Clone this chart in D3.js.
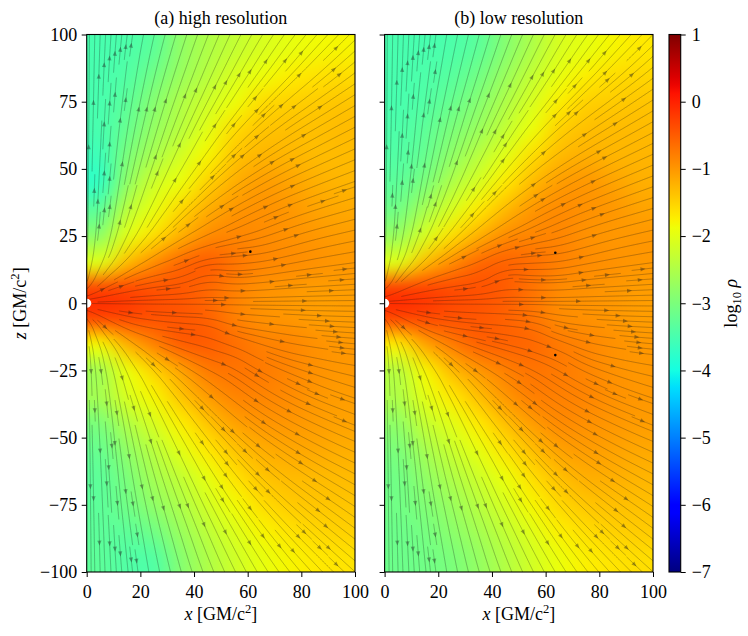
<!DOCTYPE html>
<html>
<head>
<meta charset="utf-8">
<script src="https://cdn.jsdelivr.net/npm/d3@7"></script>
<style>
  body { margin: 0; background: #fff; }
  svg text { font-family: "Liberation Serif", "Times New Roman", serif; }
</style>
</head>
<body>
<div id="chart"></div>
<script>
// density grid: cell centres (GM/c^2), values are log10 rho
const xCells = [5, 15, 25, 35, 45, 55, 65, 75, 85, 95];
const zCells = [95, 85, 75, 65, 55, 45, 35, 25, 15, 5, -5, -15, -25, -35, -45, -55, -65, -75, -85, -95];

const rhoHigh = [
  [-3.5, -3.45, -3.3, -2.8, -2.5, -2.3, -2.1, -1.95, -1.85, -1.8],
  [-3.5, -3.4, -3.1, -2.7, -2.4, -2.1, -1.9, -1.75, -1.65, -1.6],
  [-3.5, -3.3, -2.9, -2.5, -2.2, -1.9, -1.6, -1.5, -1.45, -1.4],
  [-3.5, -3.2, -2.75, -2.4, -2.0, -1.6, -1.4, -1.35, -1.35, -1.3],
  [-3.6, -3.0, -2.55, -2.15, -1.8, -1.4, -1.25, -1.25, -1.3, -1.3],
  [-3.7, -2.8, -2.2, -1.9, -1.5, -1.2, -1.05, -1.1, -1.2, -1.25],
  [-3.3, -2.4, -1.95, -1.55, -1.2, -1.0, -0.95, -1.0, -1.1, -1.15],
  [-2.8, -2.0, -1.6, -1.2, -0.9, -0.85, -0.9, -0.95, -1.0, -1.05],
  [-2.0, -1.3, -0.9, -0.6, -0.5, -0.7, -0.85, -0.9, -0.95, -1.0],
  [-0.25, -0.3, -0.4, -0.45, -0.6, -0.8, -0.95, -1.0, -1.05, -1.05],
  [-0.25, -0.3, -0.4, -0.45, -0.55, -0.8, -0.95, -1.0, -1.05, -1.05],
  [-1.8, -1.2, -0.8, -0.5, -0.5, -0.65, -0.8, -0.85, -0.95, -1.0],
  [-2.6, -1.9, -1.5, -1.1, -0.75, -0.7, -0.75, -0.85, -0.95, -1.0],
  [-2.6, -2.1, -1.8, -1.4, -1.05, -0.85, -0.85, -0.9, -1.0, -1.05],
  [-3.0, -2.5, -2.1, -1.75, -1.4, -1.1, -1.0, -1.0, -1.05, -1.1],
  [-3.2, -2.8, -2.4, -2.0, -1.7, -1.4, -1.2, -1.15, -1.15, -1.2],
  [-3.3, -3.0, -2.6, -2.3, -1.95, -1.65, -1.4, -1.3, -1.3, -1.3],
  [-3.3, -3.1, -2.8, -2.5, -2.15, -1.85, -1.6, -1.45, -1.4, -1.4],
  [-3.3, -3.3, -3.1, -2.7, -2.35, -2.05, -1.8, -1.65, -1.55, -1.5],
  [-3.3, -3.4, -3.4, -2.9, -2.5, -2.2, -1.95, -1.8, -1.7, -1.65]
];

const rhoLow = [
  [-3.5, -3.5, -3.45, -3.3, -2.9, -2.5, -2.1, -1.95, -1.8, -1.7],
  [-3.5, -3.45, -3.35, -3.1, -2.7, -2.3, -1.95, -1.75, -1.6, -1.55],
  [-3.5, -3.4, -3.2, -2.9, -2.5, -2.1, -1.75, -1.5, -1.45, -1.4],
  [-3.45, -3.3, -3.0, -2.7, -2.3, -1.9, -1.5, -1.35, -1.3, -1.3],
  [-3.4, -3.2, -2.8, -2.4, -2.0, -1.6, -1.3, -1.2, -1.25, -1.25],
  [-3.3, -3.0, -2.5, -2.1, -1.7, -1.3, -1.05, -1.0, -1.1, -1.2],
  [-3.1, -2.6, -2.1, -1.7, -1.3, -1.0, -0.9, -0.95, -1.0, -1.1],
  [-2.7, -2.1, -1.6, -1.2, -0.9, -0.85, -0.85, -0.95, -1.0, -1.0],
  [-2.0, -1.3, -0.9, -0.6, -0.55, -0.65, -0.8, -0.9, -0.95, -1.0],
  [-0.2, -0.25, -0.35, -0.4, -0.5, -0.7, -0.9, -0.95, -1.0, -1.05],
  [-0.25, -0.3, -0.4, -0.45, -0.55, -0.7, -0.9, -0.95, -1.0, -1.05],
  [-1.7, -1.1, -0.75, -0.55, -0.55, -0.6, -0.75, -0.85, -0.95, -1.0],
  [-2.4, -1.8, -1.3, -1.0, -0.8, -0.7, -0.75, -0.85, -0.95, -1.0],
  [-2.5, -2.0, -1.7, -1.35, -1.0, -0.8, -0.8, -0.85, -0.95, -1.0],
  [-2.8, -2.3, -2.0, -1.7, -1.35, -1.05, -0.9, -0.95, -1.0, -1.05],
  [-3.0, -2.6, -2.25, -1.95, -1.65, -1.35, -1.1, -1.05, -1.1, -1.15],
  [-3.1, -2.8, -2.5, -2.2, -1.9, -1.6, -1.35, -1.2, -1.2, -1.25],
  [-3.1, -2.95, -2.7, -2.4, -2.1, -1.8, -1.55, -1.4, -1.35, -1.35],
  [-3.15, -3.05, -2.85, -2.6, -2.3, -2.0, -1.75, -1.6, -1.5, -1.45],
  [-3.15, -3.1, -3.0, -2.75, -2.45, -2.15, -1.9, -1.75, -1.65, -1.6]
];

// flow direction (degrees from +x) on grid nodes
const flowNodesX = [0, 10, 20, 30, 40, 50, 60, 70, 80, 90, 100];
const flowNodesZ = [100, 90, 80, 70, 60, 50, 40, 30, 20, 10, 0, -10, -20, -30, -40, -50, -60, -70, -80, -90, -100];

const flowHigh = [
  [90, 86, 80, 75, 71, 67, 62, 57, 52, 48, 45],
  [90, 86, 80, 74, 70, 65, 60, 54, 48, 43, 40],
  [90, 86, 79, 73, 68, 62, 55, 47, 40, 36, 33],
  [90, 85, 78, 72, 65, 57, 48, 40, 34, 31, 29],
  [90, 85, 77, 70, 62, 52, 42, 34, 29, 27, 25],
  [90, 84, 75, 66, 55, 44, 35, 29, 25, 23, 21],
  [90, 83, 72, 60, 46, 36, 29, 25, 21, 19, 17],
  [90, 80, 65, 48, 36, 29, 25, 22, 18, 15, 14],
  [88, 70, 45, 30, 20, 10, 5, 15, 15, 12, 10],
  [80, 35, 18, 10, 25, -10, 5, 8, 6, 5, 5],
  [0, 0, 0, 0, 0, 0, 0, 0, 0, 0, 0],
  [-80, -35, -15, -8, -5, -25, -10, -8, -6, -4, -3],
  [-88, -70, -45, -30, -22, -15, -30, -20, -12, -10, -6],
  [-90, -80, -65, -50, -40, -35, -35, -30, -25, -20, -16],
  [-90, -83, -72, -60, -50, -42, -36, -30, -25, -22, -20],
  [-90, -84, -76, -66, -56, -48, -40, -33, -28, -25, -22],
  [-90, -85, -78, -70, -62, -54, -46, -38, -32, -28, -25],
  [-90, -86, -79, -72, -66, -58, -50, -43, -37, -33, -30],
  [-90, -86, -80, -74, -68, -62, -55, -48, -42, -38, -35],
  [-90, -87, -81, -76, -71, -65, -59, -52, -46, -42, -38],
  [-90, -87, -82, -77, -72, -67, -62, -56, -50, -46, -42]
];

const flowLow = [
  [90, 87, 82, 77, 73, 68, 63, 58, 53, 49, 46],
  [90, 87, 81, 76, 71, 66, 61, 55, 49, 44, 41],
  [90, 86, 80, 74, 69, 63, 56, 48, 41, 37, 34],
  [90, 86, 79, 73, 66, 58, 49, 41, 35, 32, 30],
  [90, 85, 78, 71, 63, 53, 43, 35, 30, 28, 26],
  [90, 84, 76, 67, 56, 45, 36, 30, 26, 24, 22],
  [90, 83, 72, 60, 47, 37, 30, 26, 22, 20, 18],
  [90, 80, 65, 48, 37, 30, 26, 22, 18, 15, 14],
  [88, 70, 45, 30, 22, 12, 5, 15, 15, 12, 10],
  [80, 35, 18, 12, 30, -5, 0, 8, 6, 5, 5],
  [0, 0, 0, 0, 0, 0, 0, 0, 0, 0, 0],
  [-80, -35, -15, -8, -5, -8, -25, -10, -6, -4, -3],
  [-88, -70, -45, -30, -22, -18, -20, -30, -15, -10, -6],
  [-90, -80, -65, -50, -40, -35, -35, -30, -25, -20, -16],
  [-90, -83, -72, -60, -50, -42, -36, -30, -25, -22, -20],
  [-90, -84, -76, -66, -56, -48, -40, -33, -28, -25, -22],
  [-90, -85, -78, -70, -62, -54, -46, -38, -32, -28, -25],
  [-90, -86, -79, -72, -66, -58, -50, -43, -37, -33, -30],
  [-90, -86, -80, -74, -68, -62, -55, -48, -42, -38, -35],
  [-90, -87, -81, -76, -71, -65, -59, -52, -46, -42, -38],
  [-90, -87, -82, -77, -72, -67, -62, -56, -50, -46, -42]
];

// stagnation points marked in each panel
const nullHigh = [[61, 19.2]];
const nullLow = [[63.6, 18.8], [63.6, -19.3]];

const xTicks = [0, 20, 40, 60, 80, 100];
const zTicks = [-100, -75, -50, -25, 0, 25, 50, 75, 100];
const cbTicks = [-7, -6, -5, -4, -3, -2, -1, 0, 1];
const titles = ["(a) high resolution", "(b) low resolution"];

// ---------------------------------------------------------------
var width = 748, height = 636;
var plotTop = 34.5, plotBottom = 572;
var panels = [
  { x0: 86.7, x1: 355, rho: rhoHigh, flow: flowHigh, nulls: nullHigh, title: titles[0], labels: true },
  { x0: 384.6, x1: 653, rho: rhoLow, flow: flowLow, nulls: nullLow, title: titles[1], labels: false }
];
var cb = { x0: 669, x1: 680.7 };
var fontSize = 18;

var svg = d3.select("#chart").append("svg")
  .attr("width", width).attr("height", height);

// jet colormap
var tScale = d3.scaleLinear().domain([-7, 1]).range([0, 1]).clamp(true);
var jetR = d3.scaleLinear().domain([0, 0.35, 0.66, 0.89, 1]).range([0, 0, 1, 1, 0.5]);
var jetG = d3.scaleLinear().domain([0, 0.125, 0.375, 0.64, 0.91, 1]).range([0, 0, 1, 1, 0, 0]);
var jetB = d3.scaleLinear().domain([0, 0.11, 0.34, 0.65, 1]).range([0.5, 1, 1, 0, 0]);
function jet(v) {
  var t = tScale(v);
  return d3.rgb(jetR(t) * 255, jetG(t) * 255, jetB(t) * 255);
}

var zScale = d3.scaleLinear().domain([-100, 100]).range([plotBottom, plotTop]);
var defs = svg.append("defs");

function fieldImage(rho, pw, ph) {
  var nx = rho[0].length, nz = rho.length;
  // small canvas with one replicated border pixel so edges clamp
  var small = document.createElement("canvas");
  small.width = nx + 2; small.height = nz + 2;
  var sctx = small.getContext("2d");
  var img = sctx.createImageData(nx + 2, nz + 2);
  for (var j = 0; j < nz + 2; j++) {
    for (var i = 0; i < nx + 2; i++) {
      var jj = Math.max(0, Math.min(nz - 1, j - 1));
      var ii = Math.max(0, Math.min(nx - 1, i - 1));
      var c = jet(rho[jj][ii]);
      var k = (j * (nx + 2) + i) * 4;
      img.data[k] = c.r; img.data[k + 1] = c.g; img.data[k + 2] = c.b; img.data[k + 3] = 255;
    }
  }
  sctx.putImageData(img, 0, 0);
  var big = document.createElement("canvas");
  big.width = Math.round(pw * 2); big.height = Math.round(ph * 2);
  var ctx = big.getContext("2d");
  ctx.imageSmoothingEnabled = true;
  ctx.imageSmoothingQuality = "high";
  ctx.drawImage(small, 1, 1, nx, nz, 0, 0, big.width, big.height);
  return big.toDataURL();
}

function flowDir(flow, x, z) {
  var stepX = flowNodesX[1] - flowNodesX[0];
  var stepZ = flowNodesZ[0] - flowNodesZ[1];
  var gx = (x - flowNodesX[0]) / stepX, gz = (flowNodesZ[0] - z) / stepZ;
  var i = Math.max(0, Math.min(flowNodesX.length - 2, Math.floor(gx)));
  var j = Math.max(0, Math.min(flowNodesZ.length - 2, Math.floor(gz)));
  var fx = gx - i, fz = gz - j;
  var ux = 0, uz = 0;
  [[0, 0, (1 - fx) * (1 - fz)], [1, 0, fx * (1 - fz)], [0, 1, (1 - fx) * fz], [1, 1, fx * fz]].forEach(function (q) {
    var a = flow[j + q[1]][i + q[0]] * Math.PI / 180;
    ux += q[2] * Math.cos(a); uz += q[2] * Math.sin(a);
  });
  var n = Math.hypot(ux, uz) || 1;
  return [ux / n, uz / n];
}

// streamplot-like tracing with an occupancy mask
function streamlines(flow) {
  var cell = 2, nx = 50, nz = 100, ds = 0.25, bh = 1.7;
  var mask = new Uint8Array(nx * nz);
  var lines = [];
  function cellOf(x, z) {
    return [Math.max(0, Math.min(nx - 1, Math.floor(x / cell))),
            Math.max(0, Math.min(nz - 1, Math.floor((100 - z) / cell)))];
  }
  function trace(x, z, dir, marked) {
    var pts = [];
    var c = cellOf(x, z), ci = c[0], cj = c[1];
    for (var s = 0; s < 4000; s++) {
      var v1 = flowDir(flow, x, z);
      var v2 = flowDir(flow, x + dir * v1[0] * ds / 2, z + dir * v1[1] * ds / 2);
      var xn = x + dir * v2[0] * ds, zn = z + dir * v2[1] * ds;
      if (xn < 0 || xn > 100 || zn < -100 || zn > 100) {
        pts.push([Math.max(0, Math.min(100, xn)), Math.max(-100, Math.min(100, zn))]);
        break;
      }
      if (Math.hypot(xn, zn) < bh) break;
      x = xn; z = zn;
      var cc = cellOf(x, z);
      if (cc[0] !== ci || cc[1] !== cj) {
        var k = cc[1] * nx + cc[0];
        if (mask[k]) break;
        mask[k] = 1; marked.push(k);
        ci = cc[0]; cj = cc[1];
      }
      pts.push([x, z]);
    }
    return pts;
  }
  var seeds = [];
  for (var j = 0; j < nz; j++) for (var i = 0; i < nx; i++)
    seeds.push([i, j, Math.min(i, j, nx - 1 - i, nz - 1 - j)]);
  seeds.sort(function (a, b) { return a[2] - b[2]; });
  seeds.forEach(function (sd) {
    var k = sd[1] * nx + sd[0];
    if (mask[k]) return;
    var x0 = (sd[0] + 0.5) * cell, z0 = 100 - (sd[1] + 0.5) * cell;
    var marked = [k]; mask[k] = 1;
    var back = trace(x0, z0, -1, marked);
    var fwd = trace(x0, z0, 1, marked);
    var pts = back.reverse().concat([[x0, z0]], fwd);
    var len = 0;
    for (var p = 1; p < pts.length; p++) len += Math.hypot(pts[p][0] - pts[p - 1][0], pts[p][1] - pts[p - 1][1]);
    if (len < 8) { marked.forEach(function (m) { mask[m] = 0; }); return; }
    lines.push(pts);
  });
  return lines;
}

panels.forEach(function (pn, idx) {
  var xScale = d3.scaleLinear().domain([0, 100]).range([pn.x0, pn.x1]);
  var pw = pn.x1 - pn.x0, ph = plotBottom - plotTop;
  var clipId = "clip" + idx;
  defs.append("clipPath").attr("id", clipId)
    .append("rect").attr("x", pn.x0).attr("y", plotTop).attr("width", pw).attr("height", ph);

  var g = svg.append("g");
  var cellW = xCells[1] - xCells[0], cellH = zCells[0] - zCells[1];
  var ix0 = xScale(xCells[0] - cellW / 2), ix1 = xScale(xCells[xCells.length - 1] + cellW / 2);
  var iy0 = zScale(zCells[0] + cellH / 2), iy1 = zScale(zCells[zCells.length - 1] - cellH / 2);
  g.append("image")
    .attr("x", ix0).attr("y", iy0)
    .attr("width", ix1 - ix0).attr("height", iy1 - iy0)
    .attr("preserveAspectRatio", "none")
    .attr("href", fieldImage(pn.rho, ix1 - ix0, iy1 - iy0));

  var sl = g.append("g").attr("clip-path", "url(#" + clipId + ")");
  var lines = streamlines(pn.flow);
  var line = d3.line().x(function (d) { return xScale(d[0]); }).y(function (d) { return zScale(d[1]); });
  sl.selectAll("path.stream").data(lines).join("path")
    .attr("class", "stream")
    .attr("d", line)
    .attr("fill", "none")
    .attr("stroke", "#1a1a1a")
    .attr("stroke-opacity", 0.38)
    .attr("stroke-width", 0.75);

  // arrow heads at mid-length of each line
  sl.selectAll("path.arrow").data(lines).join("path")
    .attr("class", "arrow")
    .attr("d", function (pts) {
      var s = [0];
      for (var p = 1; p < pts.length; p++) s.push(s[p - 1] + Math.hypot(pts[p][0] - pts[p - 1][0], pts[p][1] - pts[p - 1][1]));
      var m = d3.bisectLeft(s, s[s.length - 1] / 2);
      m = Math.max(0, Math.min(pts.length - 2, m));
      var ax = xScale(pts[m][0]), ay = zScale(pts[m][1]);
      var bx = xScale(pts[m + 1][0]), by = zScale(pts[m + 1][1]);
      var dx = bx - ax, dy = by - ay, n = Math.hypot(dx, dy) || 1;
      dx /= n; dy /= n;
      var L = 5, Wd = 2.1;
      return "M" + (ax + dx * L * 0.5) + "," + (ay + dy * L * 0.5) +
        "L" + (ax - dx * L * 0.5 - dy * Wd) + "," + (ay - dy * L * 0.5 + dx * Wd) +
        "L" + (ax - dx * L * 0.5 + dy * Wd) + "," + (ay - dy * L * 0.5 - dx * Wd) + "Z";
    })
    .attr("fill", "#1a1a1a")
    .attr("fill-opacity", 0.38)
    .attr("stroke", "none");

  sl.selectAll("circle.null").data(pn.nulls).join("circle")
    .attr("class", "null")
    .attr("cx", function (d) { return xScale(d[0]); })
    .attr("cy", function (d) { return zScale(d[1]); })
    .attr("r", 1.3)
    .attr("fill", "#000");

  // black hole
  sl.append("circle")
    .attr("cx", xScale(0)).attr("cy", zScale(0))
    .attr("r", xScale(1.7) - xScale(0))
    .attr("fill", "#fff");

  g.append("rect")
    .attr("x", pn.x0).attr("y", plotTop).attr("width", pw).attr("height", ph)
    .attr("fill", "none").attr("stroke", "#000").attr("stroke-width", 1.1);

  var ax = svg.append("g")
    .attr("transform", "translate(0," + plotBottom + ")")
    .call(d3.axisBottom(xScale).tickValues(xTicks).tickSize(5).tickSizeOuter(0).tickPadding(8));
  ax.select(".domain").remove();
  ax.attr("font-family", null).attr("font-size", fontSize);

  var ay = svg.append("g")
    .attr("transform", "translate(" + pn.x0 + ",0)")
    .call(d3.axisLeft(zScale).tickValues(zTicks).tickSize(5).tickSizeOuter(0).tickPadding(4.5));
  ay.select(".domain").remove();
  ay.attr("font-family", null).attr("font-size", fontSize);
  if (!pn.labels) ay.selectAll("text").remove();

  svg.append("text")
    .attr("x", (pn.x0 + pn.x1) / 2).attr("y", 23.5)
    .attr("text-anchor", "middle").attr("font-size", fontSize)
    .text(pn.title);

  var xl = svg.append("text")
    .attr("x", (pn.x0 + pn.x1) / 2).attr("y", 619.5)
    .attr("text-anchor", "middle").attr("font-size", fontSize);
  xl.append("tspan").attr("font-style", "italic").text("x");
  xl.append("tspan").text(" [GM/c");
  xl.append("tspan").attr("font-size", fontSize * 0.7).attr("dy", -7).text("2");
  xl.append("tspan").attr("dy", 7).text("]");
});

// y label
var yl = svg.append("text")
  .attr("transform", "translate(26," + ((plotTop + plotBottom) / 2) + ") rotate(-90)")
  .attr("text-anchor", "middle").attr("font-size", fontSize);
yl.append("tspan").attr("font-style", "italic").text("z");
yl.append("tspan").text(" [GM/c");
yl.append("tspan").attr("font-size", fontSize * 0.7).attr("dy", -7).text("2");
yl.append("tspan").attr("dy", 7).text("]");

// colorbar
var cbScale = d3.scaleLinear().domain([-7, 1]).range([plotBottom, plotTop]);
var grad = defs.append("linearGradient").attr("id", "jetGrad")
  .attr("x1", 0).attr("y1", 1).attr("x2", 0).attr("y2", 0);
grad.selectAll("stop").data(d3.range(0, 1.0001, 1 / 64)).join("stop")
  .attr("offset", function (d) { return d; })
  .attr("stop-color", function (d) { return jet(-7 + 8 * d).formatHex(); });
svg.append("rect")
  .attr("x", cb.x0).attr("y", plotTop).attr("width", cb.x1 - cb.x0).attr("height", plotBottom - plotTop)
  .attr("fill", "url(#jetGrad)").attr("stroke", "#000").attr("stroke-width", 1.1);
var cax = svg.append("g")
  .attr("transform", "translate(" + cb.x1 + ",0)")
  .call(d3.axisRight(cbScale).tickValues(cbTicks).tickSize(5).tickSizeOuter(0).tickPadding(6));
cax.select(".domain").remove();
cax.attr("font-family", null).attr("font-size", fontSize);

var cl = svg.append("text")
  .attr("transform", "translate(737," + ((plotTop + plotBottom) / 2) + ") rotate(-90)")
  .attr("text-anchor", "middle").attr("font-size", fontSize);
cl.append("tspan").text("log");
cl.append("tspan").attr("font-size", fontSize * 0.7).attr("dy", 4).text("10");
cl.append("tspan").attr("dy", -4).attr("font-style", "italic").text(" ρ");
</script>
</body>
</html>
